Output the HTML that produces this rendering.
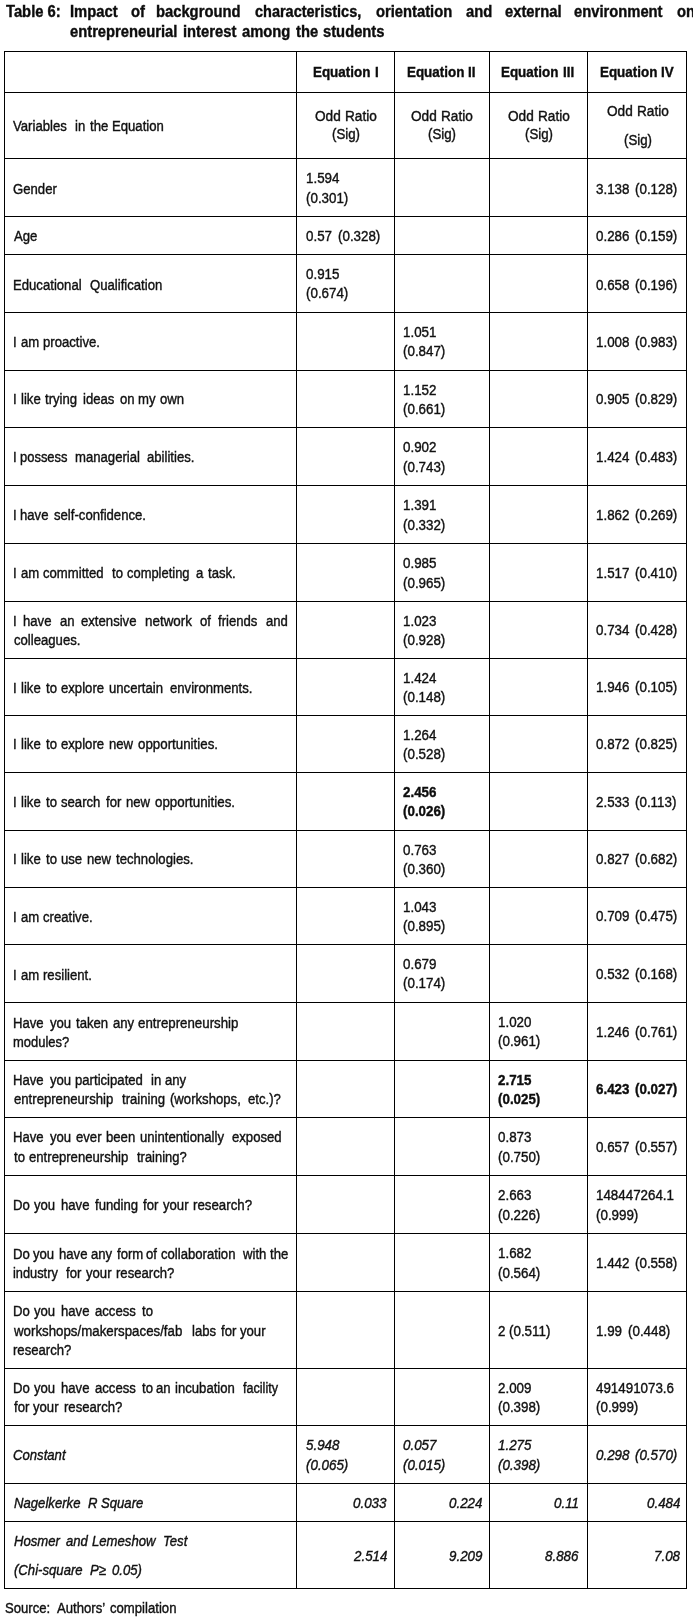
<!DOCTYPE html>
<html lang="en"><head><meta charset="utf-8"><title>Table 6</title>
<style>
html,body{margin:0;padding:0;background:#fff;}
body{width:693px;height:1619px;position:relative;overflow:hidden;font-family:"Liberation Sans",sans-serif;color:#111;}
#pg{position:absolute;left:0;top:0;width:693px;height:1619px;overflow:hidden;background:#fff;will-change:transform;}
.h,.v{position:absolute;background:#000;}
.h{height:1px;left:4px;width:683px;}
.v{width:1px;top:51px;height:1538px;}
.t{position:absolute;white-space:pre;line-height:1;font-size:14.90px;transform-origin:0 0;transform:scaleX(0.8820);-webkit-text-stroke:0.4px #111;}
.b{font-weight:bold;color:#0c0c0c;}
.i{font-style:italic;}
</style></head><body><div id="pg">
<div class="h" style="top:51px"></div><div class="h" style="top:92px"></div><div class="h" style="top:158px"></div><div class="h" style="top:216px"></div><div class="h" style="top:254px"></div><div class="h" style="top:312px"></div><div class="h" style="top:370px"></div><div class="h" style="top:427px"></div><div class="h" style="top:485px"></div><div class="h" style="top:543px"></div><div class="h" style="top:601px"></div><div class="h" style="top:658px"></div><div class="h" style="top:715px"></div><div class="h" style="top:772px"></div><div class="h" style="top:830px"></div><div class="h" style="top:887px"></div><div class="h" style="top:944px"></div><div class="h" style="top:1002px"></div><div class="h" style="top:1060px"></div><div class="h" style="top:1117px"></div><div class="h" style="top:1175px"></div><div class="h" style="top:1233px"></div><div class="h" style="top:1291px"></div><div class="h" style="top:1368px"></div><div class="h" style="top:1425px"></div><div class="h" style="top:1483px"></div><div class="h" style="top:1521px"></div><div class="h" style="top:1588px"></div>
<div class="v" style="left:4px"></div><div class="v" style="left:296px"></div><div class="v" style="left:394px"></div><div class="v" style="left:489px"></div><div class="v" style="left:587px"></div><div class="v" style="left:686px"></div>
<span class="t b" style="left:6.18px;top:4px;transform:scaleX(0.9220);font-size:16.00px;">Table 6:</span>
<span class="t b" style="left:69.86px;top:4px;transform:scaleX(0.9220);font-size:16.00px;">Impact</span>
<span class="t b" style="left:131.27px;top:4px;transform:scaleX(0.9220);font-size:16.00px;">of</span>
<span class="t b" style="left:156.48px;top:4px;transform:scaleX(0.9220);font-size:16.00px;">background</span>
<span class="t b" style="left:254.58px;top:4px;transform:scaleX(0.9050);font-size:16.00px;">characteristics,</span>
<span class="t b" style="left:376.27px;top:4px;transform:scaleX(0.9220);font-size:16.00px;">orientation</span>
<span class="t b" style="left:466.12px;top:4px;transform:scaleX(0.9220);font-size:16.00px;">and</span>
<span class="t b" style="left:504.87px;top:4px;transform:scaleX(0.9220);font-size:16.00px;">external</span>
<span class="t b" style="left:574.27px;top:4px;transform:scaleX(0.9220);font-size:16.00px;">environment</span>
<span class="t b" style="left:676.57px;top:4px;transform:scaleX(0.9220);font-size:16.00px;">on</span>
<span class="t b" style="left:70.27px;top:24px;transform:scaleX(0.9220);font-size:16.00px;">entrepreneurial</span>
<span class="t b" style="left:183.42px;top:24px;transform:scaleX(0.9220);font-size:16.00px;">interest</span>
<span class="t b" style="left:242.42px;top:24px;transform:scaleX(0.9220);font-size:16.00px;">among</span>
<span class="t b" style="left:295.97px;top:24px;transform:scaleX(0.9220);font-size:16.00px;">the</span>
<span class="t b" style="left:322.93px;top:24px;transform:scaleX(0.9220);font-size:16.00px;">students</span>
<span class="t b" style="left:312.65px;top:65px;transform:scaleX(0.9000);">Equation</span>
<span class="t b" style="left:374.85px;top:65px;transform:scaleX(0.9000);">I</span>
<span class="t b" style="left:407.25px;top:65px;transform:scaleX(0.9000);">Equation</span>
<span class="t b" style="left:468.44px;top:65px;transform:scaleX(0.9000);">II</span>
<span class="t b" style="left:501.45px;top:65px;transform:scaleX(0.9000);">Equation</span>
<span class="t b" style="left:562.64px;top:65px;transform:scaleX(0.9000);">III</span>
<span class="t b" style="left:600.05px;top:65px;transform:scaleX(0.9000);">Equation</span>
<span class="t b" style="left:661.24px;top:65px;transform:scaleX(0.9000);">IV</span>
<span class="t" style="left:607.10px;top:104px;transform:scaleX(0.9150);">Odd</span>
<span class="t" style="left:637.23px;top:104px;transform:scaleX(0.9150);">Ratio</span>
<span class="t" style="left:314.60px;top:109px;transform:scaleX(0.9150);">Odd</span>
<span class="t" style="left:344.73px;top:109px;transform:scaleX(0.9150);">Ratio</span>
<span class="t" style="left:411.10px;top:109px;transform:scaleX(0.9150);">Odd</span>
<span class="t" style="left:441.23px;top:109px;transform:scaleX(0.9150);">Ratio</span>
<span class="t" style="left:507.60px;top:109px;transform:scaleX(0.9150);">Odd</span>
<span class="t" style="left:537.73px;top:109px;transform:scaleX(0.9150);">Ratio</span>
<span class="t" style="left:13.39px;top:119px;">Variables</span>
<span class="t" style="left:75.27px;top:119px;">in</span>
<span class="t" style="left:89.95px;top:119px;">the</span>
<span class="t" style="left:111.77px;top:119px;">Equation</span>
<span class="t" style="left:331.80px;top:127px;transform:scaleX(0.8900);">(Sig)</span>
<span class="t" style="left:428.30px;top:127px;transform:scaleX(0.8900);">(Sig)</span>
<span class="t" style="left:524.80px;top:127px;transform:scaleX(0.8900);">(Sig)</span>
<span class="t" style="left:624.00px;top:133px;transform:scaleX(0.8900);">(Sig)</span>
<span class="t" style="left:306.00px;top:171px;transform:scaleX(0.8970);">1.594</span>
<span class="t" style="left:13.49px;top:182px;">Gender</span>
<span class="t" style="left:596.20px;top:182px;transform:scaleX(0.8970);">3.138</span>
<span class="t" style="left:635.20px;top:182px;transform:scaleX(0.8970);">(0.128)</span>
<span class="t" style="left:306.00px;top:191px;transform:scaleX(0.8970);">(0.301)</span>
<span class="t" style="left:13.72px;top:229px;">Age</span>
<span class="t" style="left:306.00px;top:229px;transform:scaleX(0.8970);">0.57</span>
<span class="t" style="left:337.57px;top:229px;transform:scaleX(0.8970);">(0.328)</span>
<span class="t" style="left:596.20px;top:229px;transform:scaleX(0.8970);">0.286</span>
<span class="t" style="left:635.20px;top:229px;transform:scaleX(0.8970);">(0.159)</span>
<span class="t" style="left:306.00px;top:267px;transform:scaleX(0.8970);">0.915</span>
<span class="t" style="left:13.07px;top:278px;">Educational</span>
<span class="t" style="left:89.53px;top:278px;">Qualification</span>
<span class="t" style="left:596.20px;top:278px;transform:scaleX(0.8970);">0.658</span>
<span class="t" style="left:635.20px;top:278px;transform:scaleX(0.8970);">(0.196)</span>
<span class="t" style="left:306.00px;top:286px;transform:scaleX(0.8970);">(0.674)</span>
<span class="t" style="left:403.00px;top:325px;transform:scaleX(0.8970);">1.051</span>
<span class="t" style="left:12.94px;top:335px;">I</span>
<span class="t" style="left:20.59px;top:335px;">am</span>
<span class="t" style="left:42.60px;top:335px;">proactive.</span>
<span class="t" style="left:596.20px;top:335px;transform:scaleX(0.8970);">1.008</span>
<span class="t" style="left:635.20px;top:335px;transform:scaleX(0.8970);">(0.983)</span>
<span class="t" style="left:403.00px;top:344px;transform:scaleX(0.8970);">(0.847)</span>
<span class="t" style="left:403.00px;top:383px;transform:scaleX(0.8970);">1.152</span>
<span class="t" style="left:12.94px;top:392px;">I</span>
<span class="t" style="left:20.86px;top:392px;">like</span>
<span class="t" style="left:44.95px;top:392px;">trying</span>
<span class="t" style="left:82.57px;top:392px;">ideas</span>
<span class="t" style="left:119.60px;top:392px;">on</span>
<span class="t" style="left:137.58px;top:392px;">my</span>
<span class="t" style="left:160.30px;top:392px;">own</span>
<span class="t" style="left:596.20px;top:392px;transform:scaleX(0.8970);">0.905</span>
<span class="t" style="left:635.20px;top:392px;transform:scaleX(0.8970);">(0.829)</span>
<span class="t" style="left:403.00px;top:402px;transform:scaleX(0.8970);">(0.661)</span>
<span class="t" style="left:403.00px;top:440px;transform:scaleX(0.8970);">0.902</span>
<span class="t" style="left:12.94px;top:450px;">I</span>
<span class="t" style="left:20.31px;top:450px;transform:scaleX(0.8700);">possess</span>
<span class="t" style="left:75.28px;top:450px;">managerial</span>
<span class="t" style="left:146.89px;top:450px;">abilities.</span>
<span class="t" style="left:596.20px;top:450px;transform:scaleX(0.8970);">1.424</span>
<span class="t" style="left:635.20px;top:450px;transform:scaleX(0.8970);">(0.483)</span>
<span class="t" style="left:403.00px;top:460px;transform:scaleX(0.8970);">(0.743)</span>
<span class="t" style="left:403.00px;top:498px;transform:scaleX(0.8970);">1.391</span>
<span class="t" style="left:12.94px;top:508px;">I</span>
<span class="t" style="left:20.24px;top:508px;">have</span>
<span class="t" style="left:54.08px;top:508px;">self-confidence.</span>
<span class="t" style="left:596.20px;top:508px;transform:scaleX(0.8970);">1.862</span>
<span class="t" style="left:635.20px;top:508px;transform:scaleX(0.8970);">(0.269)</span>
<span class="t" style="left:403.00px;top:518px;transform:scaleX(0.8970);">(0.332)</span>
<span class="t" style="left:403.00px;top:556px;transform:scaleX(0.8970);">0.985</span>
<span class="t" style="left:12.94px;top:566px;">I</span>
<span class="t" style="left:20.59px;top:566px;">am</span>
<span class="t" style="left:42.89px;top:566px;">committed</span>
<span class="t" style="left:111.65px;top:566px;">to</span>
<span class="t" style="left:127.30px;top:566px;transform:scaleX(0.8680);">completing</span>
<span class="t" style="left:196.29px;top:566px;">a</span>
<span class="t" style="left:208.25px;top:566px;">task.</span>
<span class="t" style="left:596.20px;top:566px;transform:scaleX(0.8970);">1.517</span>
<span class="t" style="left:635.20px;top:566px;transform:scaleX(0.8970);">(0.410)</span>
<span class="t" style="left:403.00px;top:576px;transform:scaleX(0.8970);">(0.965)</span>
<span class="t" style="left:12.94px;top:614px;">I</span>
<span class="t" style="left:23.24px;top:614px;">have</span>
<span class="t" style="left:59.59px;top:614px;">an</span>
<span class="t" style="left:80.59px;top:614px;">extensive</span>
<span class="t" style="left:145.26px;top:614px;transform:scaleX(0.9000);">network</span>
<span class="t" style="left:200.30px;top:614px;">of</span>
<span class="t" style="left:218.26px;top:614px;">friends</span>
<span class="t" style="left:265.59px;top:614px;">and</span>
<span class="t" style="left:403.00px;top:614px;transform:scaleX(0.8970);">1.023</span>
<span class="t" style="left:596.20px;top:623px;transform:scaleX(0.8970);">0.734</span>
<span class="t" style="left:635.20px;top:623px;transform:scaleX(0.8970);">(0.428)</span>
<span class="t" style="left:13.59px;top:633px;">colleagues.</span>
<span class="t" style="left:403.00px;top:633px;transform:scaleX(0.8970);">(0.928)</span>
<span class="t" style="left:403.00px;top:671px;transform:scaleX(0.8970);">1.424</span>
<span class="t" style="left:596.20px;top:680px;transform:scaleX(0.8970);">1.946</span>
<span class="t" style="left:635.20px;top:680px;transform:scaleX(0.8970);">(0.105)</span>
<span class="t" style="left:12.94px;top:681px;">I</span>
<span class="t" style="left:20.86px;top:681px;">like</span>
<span class="t" style="left:45.65px;top:681px;">to</span>
<span class="t" style="left:61.29px;top:681px;">explore</span>
<span class="t" style="left:109.30px;top:681px;">uncertain</span>
<span class="t" style="left:170.29px;top:681px;">environments.</span>
<span class="t" style="left:403.00px;top:690px;transform:scaleX(0.8970);">(0.148)</span>
<span class="t" style="left:403.00px;top:728px;transform:scaleX(0.8970);">1.264</span>
<span class="t" style="left:12.94px;top:737px;">I</span>
<span class="t" style="left:20.86px;top:737px;">like</span>
<span class="t" style="left:45.65px;top:737px;">to</span>
<span class="t" style="left:61.29px;top:737px;">explore</span>
<span class="t" style="left:109.28px;top:737px;">new</span>
<span class="t" style="left:137.89px;top:737px;transform:scaleX(0.8950);">opportunities.</span>
<span class="t" style="left:596.20px;top:737px;transform:scaleX(0.8970);">0.872</span>
<span class="t" style="left:635.20px;top:737px;transform:scaleX(0.8970);">(0.825)</span>
<span class="t" style="left:403.00px;top:747px;transform:scaleX(0.8970);">(0.528)</span>
<span class="t b" style="left:403.00px;top:785px;transform:scaleX(0.8970);">2.456</span>
<span class="t" style="left:12.94px;top:795px;">I</span>
<span class="t" style="left:20.86px;top:795px;">like</span>
<span class="t" style="left:45.65px;top:795px;">to</span>
<span class="t" style="left:61.48px;top:795px;">search</span>
<span class="t" style="left:105.96px;top:795px;">for</span>
<span class="t" style="left:125.98px;top:795px;">new</span>
<span class="t" style="left:154.59px;top:795px;transform:scaleX(0.8950);">opportunities.</span>
<span class="t" style="left:596.20px;top:795px;transform:scaleX(0.8970);">2.533</span>
<span class="t" style="left:635.20px;top:795px;transform:scaleX(0.8970);">(0.113)</span>
<span class="t b" style="left:403.00px;top:804px;transform:scaleX(0.8970);">(0.026)</span>
<span class="t" style="left:403.00px;top:843px;transform:scaleX(0.8970);">0.763</span>
<span class="t" style="left:12.94px;top:852px;">I</span>
<span class="t" style="left:20.86px;top:852px;">like</span>
<span class="t" style="left:45.65px;top:852px;">to</span>
<span class="t" style="left:61.00px;top:852px;">use</span>
<span class="t" style="left:86.58px;top:852px;">new</span>
<span class="t" style="left:115.95px;top:852px;">technologies.</span>
<span class="t" style="left:596.20px;top:852px;transform:scaleX(0.8970);">0.827</span>
<span class="t" style="left:635.20px;top:852px;transform:scaleX(0.8970);">(0.682)</span>
<span class="t" style="left:403.00px;top:862px;transform:scaleX(0.8970);">(0.360)</span>
<span class="t" style="left:403.00px;top:900px;transform:scaleX(0.8970);">1.043</span>
<span class="t" style="left:596.20px;top:909px;transform:scaleX(0.8970);">0.709</span>
<span class="t" style="left:635.20px;top:909px;transform:scaleX(0.8970);">(0.475)</span>
<span class="t" style="left:12.94px;top:910px;">I</span>
<span class="t" style="left:20.59px;top:910px;">am</span>
<span class="t" style="left:42.89px;top:910px;">creative.</span>
<span class="t" style="left:403.00px;top:919px;transform:scaleX(0.8970);">(0.895)</span>
<span class="t" style="left:403.00px;top:957px;transform:scaleX(0.8970);">0.679</span>
<span class="t" style="left:596.20px;top:967px;transform:scaleX(0.8970);">0.532</span>
<span class="t" style="left:635.20px;top:967px;transform:scaleX(0.8970);">(0.168)</span>
<span class="t" style="left:12.94px;top:968px;">I</span>
<span class="t" style="left:20.59px;top:968px;">am</span>
<span class="t" style="left:42.58px;top:968px;">resilient.</span>
<span class="t" style="left:403.00px;top:976px;transform:scaleX(0.8970);">(0.174)</span>
<span class="t" style="left:497.80px;top:1015px;transform:scaleX(0.8970);">1.020</span>
<span class="t" style="left:13.07px;top:1016px;">Have</span>
<span class="t" style="left:50.12px;top:1016px;">you</span>
<span class="t" style="left:75.95px;top:1016px;">taken</span>
<span class="t" style="left:112.89px;top:1016px;">any</span>
<span class="t" style="left:137.89px;top:1016px;transform:scaleX(0.8920);">entrepreneurship</span>
<span class="t" style="left:596.20px;top:1025px;transform:scaleX(0.8970);">1.246</span>
<span class="t" style="left:635.20px;top:1025px;transform:scaleX(0.8970);">(0.761)</span>
<span class="t" style="left:497.80px;top:1034px;transform:scaleX(0.8970);">(0.961)</span>
<span class="t" style="left:13.29px;top:1035px;transform:scaleX(0.8700);">modules?</span>
<span class="t" style="left:13.07px;top:1073px;">Have</span>
<span class="t" style="left:50.12px;top:1073px;">you</span>
<span class="t" style="left:75.30px;top:1073px;">participated</span>
<span class="t" style="left:150.97px;top:1073px;">in</span>
<span class="t" style="left:164.59px;top:1073px;">any</span>
<span class="t b" style="left:497.80px;top:1073px;transform:scaleX(0.8970);">2.715</span>
<span class="t b" style="left:596.20px;top:1082px;transform:scaleX(0.8970);">6.423</span>
<span class="t b" style="left:635.20px;top:1082px;transform:scaleX(0.8970);">(0.027)</span>
<span class="t" style="left:13.59px;top:1092px;">entrepreneurship</span>
<span class="t" style="left:121.65px;top:1092px;">training</span>
<span class="t" style="left:170.04px;top:1092px;">(workshops,</span>
<span class="t" style="left:247.89px;top:1092px;">etc.)?</span>
<span class="t b" style="left:497.80px;top:1092px;transform:scaleX(0.8970);">(0.025)</span>
<span class="t" style="left:13.07px;top:1130px;">Have</span>
<span class="t" style="left:50.12px;top:1130px;">you</span>
<span class="t" style="left:75.59px;top:1130px;">ever</span>
<span class="t" style="left:106.00px;top:1130px;">been</span>
<span class="t" style="left:140.30px;top:1130px;">unintentionally</span>
<span class="t" style="left:232.29px;top:1130px;">exposed</span>
<span class="t" style="left:497.80px;top:1130px;transform:scaleX(0.8970);">0.873</span>
<span class="t" style="left:596.20px;top:1140px;transform:scaleX(0.8970);">0.657</span>
<span class="t" style="left:635.20px;top:1140px;transform:scaleX(0.8970);">(0.557)</span>
<span class="t" style="left:13.95px;top:1150px;">to</span>
<span class="t" style="left:28.89px;top:1150px;">entrepreneurship</span>
<span class="t" style="left:137.25px;top:1150px;transform:scaleX(0.8680);">training?</span>
<span class="t" style="left:497.80px;top:1150px;transform:scaleX(0.8970);">(0.750)</span>
<span class="t" style="left:497.80px;top:1188px;transform:scaleX(0.8970);">2.663</span>
<span class="t" style="left:596.20px;top:1188px;transform:scaleX(0.8970);">148447264.1</span>
<span class="t" style="left:13.07px;top:1198px;">Do</span>
<span class="t" style="left:34.42px;top:1198px;">you</span>
<span class="t" style="left:60.94px;top:1198px;">have</span>
<span class="t" style="left:94.96px;top:1198px;">funding</span>
<span class="t" style="left:143.26px;top:1198px;">for</span>
<span class="t" style="left:162.82px;top:1198px;">your</span>
<span class="t" style="left:193.27px;top:1198px;transform:scaleX(0.8920);">research?</span>
<span class="t" style="left:497.80px;top:1208px;transform:scaleX(0.8970);">(0.226)</span>
<span class="t" style="left:596.20px;top:1208px;transform:scaleX(0.8970);">(0.999)</span>
<span class="t" style="left:497.80px;top:1246px;transform:scaleX(0.8970);">1.682</span>
<span class="t" style="left:13.07px;top:1247px;">Do</span>
<span class="t" style="left:33.42px;top:1247px;">you</span>
<span class="t" style="left:58.54px;top:1247px;">have</span>
<span class="t" style="left:91.29px;top:1247px;">any</span>
<span class="t" style="left:116.66px;top:1247px;">form</span>
<span class="t" style="left:146.30px;top:1247px;">of</span>
<span class="t" style="left:161.29px;top:1247px;">collaboration</span>
<span class="t" style="left:242.87px;top:1247px;">with</span>
<span class="t" style="left:269.95px;top:1247px;">the</span>
<span class="t" style="left:596.20px;top:1256px;transform:scaleX(0.8970);">1.442</span>
<span class="t" style="left:635.20px;top:1256px;transform:scaleX(0.8970);">(0.558)</span>
<span class="t" style="left:13.29px;top:1266px;transform:scaleX(0.8600);">industry</span>
<span class="t" style="left:65.66px;top:1266px;">for</span>
<span class="t" style="left:86.12px;top:1266px;">your</span>
<span class="t" style="left:115.98px;top:1266px;">research?</span>
<span class="t" style="left:497.80px;top:1266px;transform:scaleX(0.8970);">(0.564)</span>
<span class="t" style="left:13.07px;top:1304px;">Do</span>
<span class="t" style="left:34.42px;top:1304px;">you</span>
<span class="t" style="left:60.94px;top:1304px;">have</span>
<span class="t" style="left:95.29px;top:1304px;">access</span>
<span class="t" style="left:141.65px;top:1304px;">to</span>
<span class="t" style="left:14.17px;top:1324px;transform:scaleX(0.8920);">workshops/makerspaces/fab</span>
<span class="t" style="left:191.56px;top:1324px;">labs</span>
<span class="t" style="left:220.66px;top:1324px;">for</span>
<span class="t" style="left:240.12px;top:1324px;">your</span>
<span class="t" style="left:497.80px;top:1324px;transform:scaleX(0.8970);">2</span>
<span class="t" style="left:509.25px;top:1324px;transform:scaleX(0.8970);">(0.511)</span>
<span class="t" style="left:596.20px;top:1324px;transform:scaleX(0.8970);">1.99</span>
<span class="t" style="left:627.77px;top:1324px;transform:scaleX(0.8970);">(0.448)</span>
<span class="t" style="left:13.28px;top:1343px;">research?</span>
<span class="t" style="left:13.07px;top:1381px;">Do</span>
<span class="t" style="left:34.42px;top:1381px;">you</span>
<span class="t" style="left:60.94px;top:1381px;">have</span>
<span class="t" style="left:95.29px;top:1381px;">access</span>
<span class="t" style="left:141.65px;top:1381px;">to</span>
<span class="t" style="left:156.29px;top:1381px;">an</span>
<span class="t" style="left:174.97px;top:1381px;">incubation</span>
<span class="t" style="left:242.67px;top:1381px;transform:scaleX(0.8450);">facility</span>
<span class="t" style="left:497.80px;top:1381px;transform:scaleX(0.8970);">2.009</span>
<span class="t" style="left:596.20px;top:1381px;transform:scaleX(0.8970);">491491073.6</span>
<span class="t" style="left:13.96px;top:1400px;">for</span>
<span class="t" style="left:33.42px;top:1400px;">your</span>
<span class="t" style="left:63.58px;top:1400px;">research?</span>
<span class="t" style="left:497.80px;top:1400px;transform:scaleX(0.8970);">(0.398)</span>
<span class="t" style="left:596.20px;top:1400px;transform:scaleX(0.8970);">(0.999)</span>
<span class="t i" style="left:306.00px;top:1438px;transform:scaleX(0.8970);">5.948</span>
<span class="t i" style="left:403.00px;top:1438px;transform:scaleX(0.8970);">0.057</span>
<span class="t i" style="left:497.80px;top:1438px;transform:scaleX(0.8970);">1.275</span>
<span class="t i" style="left:13.42px;top:1448px;">Constant</span>
<span class="t i" style="left:596.20px;top:1448px;transform:scaleX(0.8970);">0.298</span>
<span class="t i" style="left:635.20px;top:1448px;transform:scaleX(0.8970);">(0.570)</span>
<span class="t i" style="left:306.00px;top:1458px;transform:scaleX(0.8970);">(0.065)</span>
<span class="t i" style="left:403.00px;top:1458px;transform:scaleX(0.8970);">(0.015)</span>
<span class="t i" style="left:497.80px;top:1458px;transform:scaleX(0.8970);">(0.398)</span>
<span class="t i" style="left:13.75px;top:1496px;">Nagelkerke</span>
<span class="t i" style="left:88.05px;top:1496px;">R</span>
<span class="t i" style="left:101.48px;top:1496px;">Square</span>
<span class="t i" style="left:353.22px;top:1496px;transform:scaleX(0.8970);">0.033</span>
<span class="t i" style="left:449.21px;top:1496px;transform:scaleX(0.8970);">0.224</span>
<span class="t i" style="left:554.16px;top:1496px;transform:scaleX(0.8970);">0.11</span>
<span class="t i" style="left:647.21px;top:1496px;transform:scaleX(0.8970);">0.484</span>
<span class="t i" style="left:13.75px;top:1534px;">Hosmer</span>
<span class="t i" style="left:65.85px;top:1534px;">and</span>
<span class="t i" style="left:92.45px;top:1534px;">Lemeshow</span>
<span class="t i" style="left:162.97px;top:1534px;">Test</span>
<span class="t i" style="left:353.61px;top:1549px;transform:scaleX(0.8970);">2.514</span>
<span class="t i" style="left:448.98px;top:1549px;transform:scaleX(0.8970);">9.209</span>
<span class="t i" style="left:544.60px;top:1549px;transform:scaleX(0.8970);">8.886</span>
<span class="t i" style="left:654.21px;top:1549px;transform:scaleX(0.8970);">7.08</span>
<span class="t i" style="left:13.53px;top:1563px;">(Chi-square</span>
<span class="t i" style="left:89.75px;top:1563px;">P≥</span>
<span class="t i" style="left:111.88px;top:1563px;">0.05)</span>
<span class="t" style="left:5.25px;top:1601px;">Source:</span>
<span class="t" style="left:56.82px;top:1601px;">Authors’</span>
<span class="t" style="left:110.29px;top:1601px;">compilation</span>
</div></body></html>
